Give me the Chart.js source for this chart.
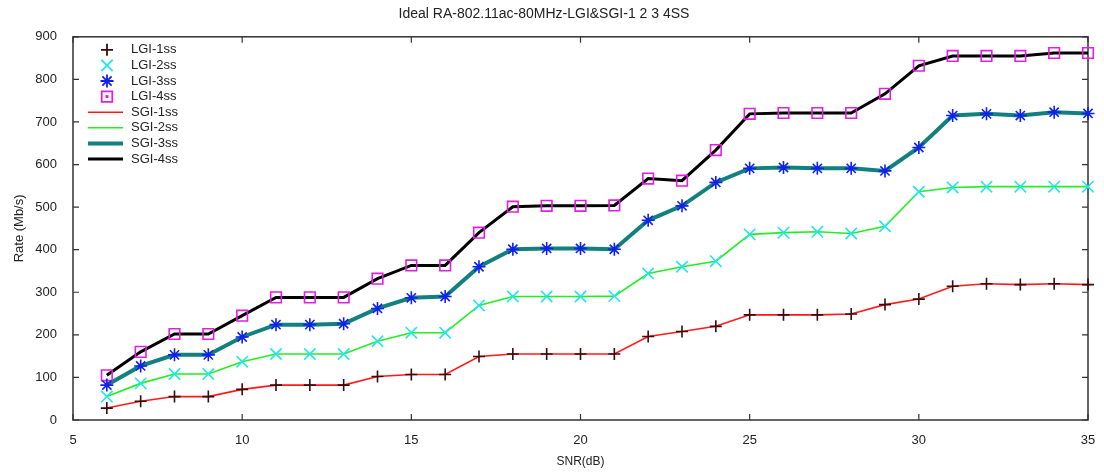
<!DOCTYPE html>
<html>
<head>
<meta charset="utf-8">
<script src="https://cdn.jsdelivr.net/npm/chart.js@4/dist/chart.umd.min.js"></script>
<style>
  html, body { margin: 0; padding: 0; background: #fff; }
  #wrap { width: 1104px; height: 472px; }
</style>
</head>
<body>
<div id="wrap"><canvas id="c" width="1104" height="472"></canvas></div>
<script>
// SNR operating points (dB)
const snr = [6, 7, 8, 9, 10, 11, 12, 13, 14, 15, 16, 17, 18, 19, 20,
             21, 22, 23, 24, 25, 26, 27, 28, 29, 30, 31, 32, 33, 34, 35];

// Achieved rate (Mb/s) per number of spatial streams
const rate1ss = [28, 44, 55, 55, 72, 82, 82, 82, 102, 107, 107, 149, 155, 155, 155,
                 155, 196, 208, 220, 247, 247, 247, 249, 271, 284, 314, 320, 318, 320, 318];
const rate2ss = [55, 86, 108, 108, 137, 155, 155, 155, 185, 205, 205, 269, 290, 290, 290,
                 291, 344, 360, 373, 436, 440, 442, 438, 455, 536, 546, 548, 548, 548, 548];
const rate3ss = [82, 127, 153, 153, 195, 224, 224, 226, 262, 287, 290, 360, 401, 403, 403,
                 401, 469, 503, 558, 591, 593, 591, 591, 585, 640, 715, 719, 715, 723, 720];
const rate4ss = [105, 160, 202, 202, 245, 288, 288, 288, 332, 363, 363, 440, 501, 503, 503,
                 504, 567, 562, 634, 719, 721, 721, 721, 766, 832, 855, 855, 855, 862, 862];

// Axis ticks
const xTicks = [5, 10, 15, 20, 25, 30, 35];
const yTicks = [0, 100, 200, 300, 400, 500, 600, 700, 800, 900];

const FONT = "'Liberation Sans', Arial, sans-serif";
const TEXT = '#222';

const pts = arr => snr.map((s, i) => ({ x: s, y: arr[i] }));

function markerSet(label, arr, style, color, radius) {
  return {
    label, data: pts(arr), showLine: false, order: 0, clip: false,
    pointStyle: style, pointRadius: radius, pointHoverRadius: radius,
    pointBorderColor: color, pointBackgroundColor: 'rgba(0,0,0,0)',
    pointBorderWidth: 1.6, borderColor: color, backgroundColor: color,
    kind: 'marker'
  };
}
function lineSet(label, arr, color, width) {
  return {
    label, data: pts(arr), showLine: true, order: 1, clip: false,
    borderColor: color, backgroundColor: color, borderWidth: width,
    pointRadius: 0, pointHoverRadius: 0, tension: 0, fill: false,
    kind: 'line'
  };
}

const datasets = [
  markerSet('LGI-1ss', rate1ss, 'cross', '#3d0a0a', 6),
  markerSet('LGI-2ss', rate2ss, 'crossRot', '#22e5ee', 8),
  markerSet('LGI-3ss', rate3ss, 'star', '#1020ee', 6.5),
  markerSet('LGI-4ss', rate4ss, 'rect', '#e020e0', 7.5),
  lineSet('SGI-1ss', rate1ss, '#ff1a1a', 1.6),
  lineSet('SGI-2ss', rate2ss, '#22ee22', 1.6),
  lineSet('SGI-3ss', rate3ss, '#11807f', 4),
  lineSet('SGI-4ss', rate4ss, '#000000', 3)
];

// Legend marker glyphs
function drawGlyph(ctx, style, x, y, r, color) {
  ctx.save();
  ctx.strokeStyle = color;
  ctx.fillStyle = color;
  ctx.lineWidth = 1.8;
  ctx.beginPath();
  if (style === 'cross' || style === 'star') {
    ctx.moveTo(x - r, y); ctx.lineTo(x + r, y);
    ctx.moveTo(x, y - r); ctx.lineTo(x, y + r);
  }
  if (style === 'crossRot' || style === 'star') {
    const d = r * Math.SQRT1_2;
    ctx.moveTo(x - d, y - d); ctx.lineTo(x + d, y + d);
    ctx.moveTo(x - d, y + d); ctx.lineTo(x + d, y - d);
  }
  if (style === 'rect') {
    const s = r * Math.SQRT1_2;
    ctx.rect(x - s, y - s, 2 * s, 2 * s);
  }
  ctx.stroke();
  if (style === 'rect') {
    ctx.fillRect(x - 1.5, y - 1.5, 3, 3);
  }
  ctx.restore();
}

// Boxed frame with inward tick marks on every side
const framePlugin = {
  id: 'frame',
  beforeDatasetsDraw(chart) {
    const { ctx, chartArea: a, scales } = chart;
    ctx.save();
    ctx.strokeStyle = '#333';
    ctx.lineWidth = 1.5;
    ctx.strokeRect(a.left, a.top, a.right - a.left, a.bottom - a.top);
    ctx.lineWidth = 1.2;
    ctx.beginPath();
    const len = 6;
    scales.x.ticks.forEach(t => {
      const px = scales.x.getPixelForValue(t.value);
      ctx.moveTo(px, a.bottom); ctx.lineTo(px, a.bottom - len);
      ctx.moveTo(px, a.top); ctx.lineTo(px, a.top + len);
    });
    scales.y.ticks.forEach(t => {
      const py = scales.y.getPixelForValue(t.value);
      ctx.moveTo(a.left, py); ctx.lineTo(a.left + len, py);
      ctx.moveTo(a.right, py); ctx.lineTo(a.right - len, py);
    });
    ctx.stroke();
    ctx.restore();
  }
};

// Legend inside the top-left corner of the plot
const insideLegend = {
  id: 'insideLegend',
  afterDatasetsDraw(chart) {
    const { ctx, chartArea: a } = chart;
    ctx.save();
    ctx.font = '13px ' + FONT;
    ctx.textBaseline = 'middle';
    ctx.textAlign = 'left';
    chart.data.datasets.forEach((ds, i) => {
      const y = a.top + 13 + i * 15.6;
      if (ds.kind === 'marker') {
        drawGlyph(ctx, ds.pointStyle, a.left + 34, y, ds.pointRadius, ds.pointBorderColor);
      } else {
        ctx.strokeStyle = ds.borderColor;
        ctx.lineWidth = ds.borderWidth;
        ctx.beginPath();
        ctx.moveTo(a.left + 15, y);
        ctx.lineTo(a.left + 50, y);
        ctx.stroke();
      }
      ctx.fillStyle = TEXT;
      ctx.fillText(ds.label, a.left + 58, y);
    });
    ctx.restore();
  }
};

new Chart(document.getElementById('c'), {
  type: 'line',
  data: { datasets },
  plugins: [framePlugin, insideLegend],
  options: {
    responsive: false,
    animation: false,
    events: [],
    layout: { padding: { left: 0, right: 16, top: 0, bottom: 0 } },
    plugins: {
      legend: { display: false },
      tooltip: { enabled: false },
      title: {
        display: true,
        text: 'Ideal RA-802.11ac-80MHz-LGI&SGI-1 2 3 4SS',
        color: TEXT,
        font: { family: FONT, size: 14, weight: 'normal' },
        padding: { top: 6, bottom: 14 }
      }
    },
    scales: {
      x: {
        type: 'linear',
        min: 5, max: 35,
        afterBuildTicks: s => { s.ticks = xTicks.map(v => ({ value: v })); },
        afterFit: s => { s.height = 52; },
        grid: { display: false },
        border: { display: false },
        ticks: { color: TEXT, font: { family: FONT, size: 13 }, padding: 5, maxRotation: 0 },
        title: {
          display: true, text: 'SNR(dB)', color: TEXT,
          font: { family: FONT, size: 12 }, padding: { top: 0, bottom: 3 }
        }
      },
      y: {
        type: 'linear',
        min: 0, max: 900,
        afterBuildTicks: s => { s.ticks = yTicks.map(v => ({ value: v })); },
        afterFit: s => { s.width = 73; },
        grid: { display: false },
        border: { display: false },
        ticks: { color: TEXT, font: { family: FONT, size: 13 }, padding: 8 },
        title: {
          display: true, text: 'Rate (Mb/s)', color: TEXT,
          font: { family: FONT, size: 13 }, padding: { top: 12, bottom: 0 }
        }
      }
    }
  }
});
</script>
</body>
</html>
